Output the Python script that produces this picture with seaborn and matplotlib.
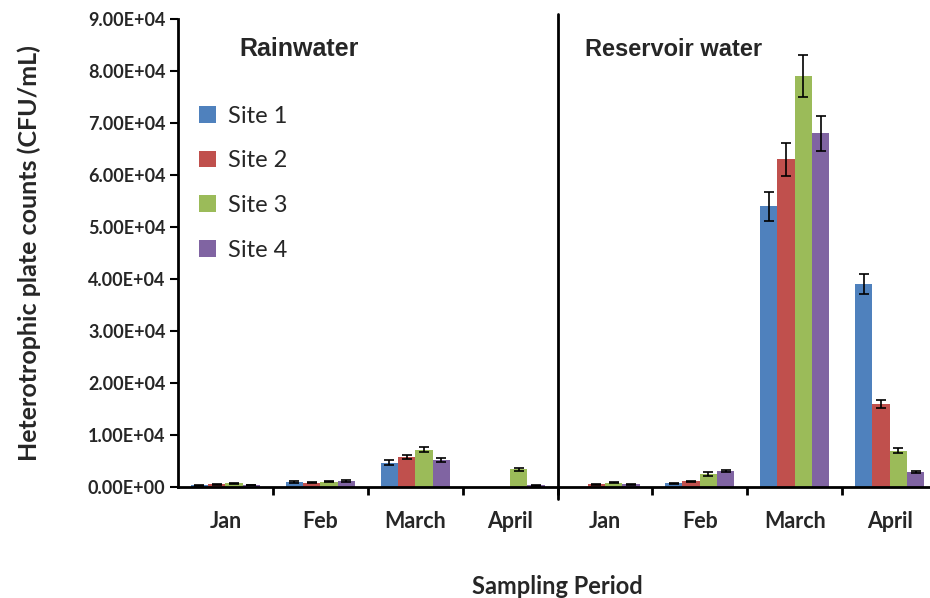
import numpy as np
import pandas as pd
import matplotlib
matplotlib.use("Agg")
import matplotlib.pyplot as plt
from matplotlib.ticker import FuncFormatter, FixedLocator
import seaborn as sns

# groups: rainwater Jan-April, then reservoir water Jan-April
periods = ["Jan", "Feb", "March", "April", "Jan", "Feb", "March", "April"]
group_keys = ["R-Jan", "R-Feb", "R-March", "R-April", "W-Jan", "W-Feb", "W-March", "W-April"]
sites = ["Site 1", "Site 2", "Site 3", "Site 4"]

site1 = [300, 1000, 4700, 0, 0, 700, 54000, 39000]
site2 = [500, 800, 5800, 0, 500, 1100, 63000, 16000]
site3 = [700, 1000, 7200, 3400, 800, 2500, 79000, 7000]
site4 = [400, 1200, 5200, 300, 550, 3100, 68000, 2900]

err1 = [80, 150, 450, 0, 0, 120, 2800, 1900]
err2 = [80, 120, 400, 0, 80, 120, 3100, 800]
err3 = [100, 120, 450, 250, 100, 300, 4000, 500]
err4 = [80, 150, 400, 80, 80, 200, 3400, 200]

colors = ["#4F81BD", "#C0504D", "#9BBB59", "#8064A2"]

values = [site1, site2, site3, site4]
errors = [err1, err2, err3, err4]

rows = []
for s, vals in zip(sites, values):
    for k, v in zip(group_keys, vals):
        rows.append({"group": k, "site": s, "count": v})
df = pd.DataFrame(rows)

sns.set_style("white")
plt.rcParams["font.family"] = ["Lato", "DejaVu Sans"]

fig = plt.figure(figsize=(9.3, 5.98), dpi=100)
ax = fig.add_axes([178 / 930, 1 - 487 / 598, 759 / 930, 468 / 598])

sns.barplot(data=df, x="group", y="count", hue="site", order=group_keys,
            hue_order=sites, palette=colors, width=0.73, errorbar=None,
            saturation=1, ax=ax, linewidth=0)

for cont, errs in zip(ax.containers, errors):
    xs = [p.get_x() + p.get_width() / 2 for p in cont]
    ys = [p.get_height() for p in cont]
    for x, y, e in zip(xs, ys, errs):
        if e > 0:
            ax.errorbar(x, y, yerr=e, fmt="none", ecolor="black",
                        elinewidth=1.2, capsize=3.5, capthick=1.2)

ax.set_xlim(-0.5, 7.5)
ax.set_ylim(0, 90000)
ax.yaxis.set_major_locator(FixedLocator(np.arange(0, 90001, 10000)))
ax.yaxis.set_major_formatter(FuncFormatter(lambda v, p: f"{v:.2E}"))

ax.set_xticks(range(8))
ax.set_xticklabels(periods)
ax.set_xticks([0.5, 1.5, 2.5, 3.5, 4.5, 5.5, 6.5], minor=True)
ax.tick_params(axis="x", which="major", length=0, pad=17, labelsize=15.5)
ax.tick_params(axis="x", which="minor", length=6, width=2, direction="out",
               color="black", bottom=True)
ax.tick_params(axis="y", which="major", length=6, width=1.5, direction="out",
               color="black", left=True, labelsize=13, pad=3)
for lab in ax.get_xticklabels() + ax.get_yticklabels():
    lab.set_fontweight("bold")

for side in ["top", "right"]:
    ax.spines[side].set_visible(False)
for side in ["left", "bottom"]:
    ax.spines[side].set_color("black")
    ax.spines[side].set_linewidth(2)

ax.axvline(3.5, ymin=-0.025, ymax=1.01, color="black", lw=2, clip_on=False)

ax.set_ylabel("Heterotrophic plate counts (CFU/mL)", fontsize=18,
              fontweight="bold", labelpad=34)
ax.set_xlabel("Sampling Period", fontsize=17, fontweight="bold", labelpad=31)

ax.text(0.15, 0.935, "Rainwater", transform=ax.get_xaxis_transform(),
        fontsize=18, fontweight="bold", family="Liberation Sans",
        ha="left", va="center")
ax.text(3.79, 0.935, "Reservoir water", transform=ax.get_xaxis_transform(),
        fontsize=17, fontweight="bold", family="Liberation Sans",
        ha="left", va="center")

handles, labels = ax.get_legend_handles_labels()
ax.legend(handles, labels, loc="upper left", bbox_to_anchor=(0.0, 0.86),
          frameon=False, fontsize=17, handlelength=0.7, handleheight=0.7,
          labelspacing=1.0, handletextpad=0.5)

fig.savefig("out.png", dpi=100)
